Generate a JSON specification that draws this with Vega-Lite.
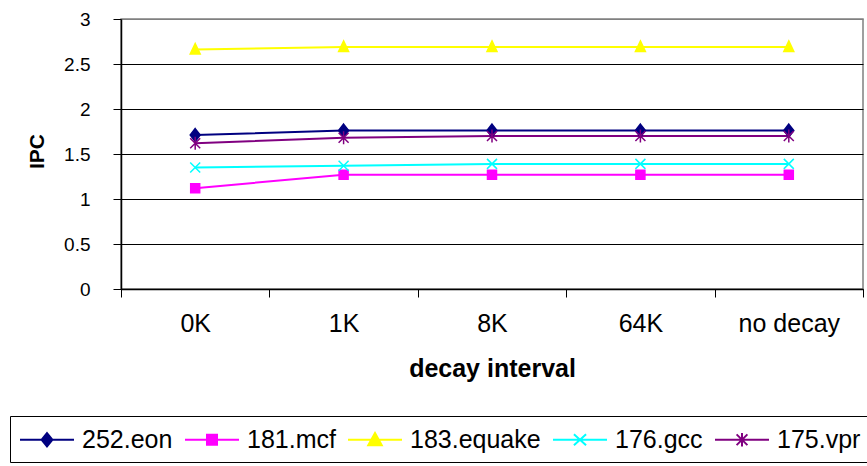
{
  "$schema": "https://vega.github.io/schema/vega-lite/v6.json",
  "width": 742,
  "height": 270,
  "autosize": {"type": "none"},
  "padding": {"left": 121, "top": 19, "right": 4, "bottom": 177},
  "background": "white",
  "config": {
    "font": "Liberation Sans",
    "view": {"stroke": "#808080", "strokeWidth": 1.5},
    "axis": {"labelFont": "Liberation Sans", "titleFont": "Liberation Sans", "labelColor": "black", "titleColor": "black", "domainColor": "black", "tickColor": "black"},
    "point": {"filled": true, "size": 100, "strokeWidth": 1.5, "opacity": 1}
  },
  "data": {
    "values": [
      {"interval": "0K", "series": "252.eon", "ipc": 1.71},
      {"interval": "1K", "series": "252.eon", "ipc": 1.76},
      {"interval": "8K", "series": "252.eon", "ipc": 1.76},
      {"interval": "64K", "series": "252.eon", "ipc": 1.76},
      {"interval": "no decay", "series": "252.eon", "ipc": 1.76},
      {"interval": "0K", "series": "181.mcf", "ipc": 1.12},
      {"interval": "1K", "series": "181.mcf", "ipc": 1.27},
      {"interval": "8K", "series": "181.mcf", "ipc": 1.27},
      {"interval": "64K", "series": "181.mcf", "ipc": 1.27},
      {"interval": "no decay", "series": "181.mcf", "ipc": 1.27},
      {"interval": "0K", "series": "183.equake", "ipc": 2.66},
      {"interval": "1K", "series": "183.equake", "ipc": 2.69},
      {"interval": "8K", "series": "183.equake", "ipc": 2.69},
      {"interval": "64K", "series": "183.equake", "ipc": 2.69},
      {"interval": "no decay", "series": "183.equake", "ipc": 2.69},
      {"interval": "0K", "series": "176.gcc", "ipc": 1.35},
      {"interval": "1K", "series": "176.gcc", "ipc": 1.37},
      {"interval": "8K", "series": "176.gcc", "ipc": 1.39},
      {"interval": "64K", "series": "176.gcc", "ipc": 1.39},
      {"interval": "no decay", "series": "176.gcc", "ipc": 1.39},
      {"interval": "0K", "series": "175.vpr", "ipc": 1.62},
      {"interval": "1K", "series": "175.vpr", "ipc": 1.68},
      {"interval": "8K", "series": "175.vpr", "ipc": 1.70},
      {"interval": "64K", "series": "175.vpr", "ipc": 1.70},
      {"interval": "no decay", "series": "175.vpr", "ipc": 1.70}
    ]
  },
  "encoding": {
    "x": {
      "field": "interval",
      "type": "nominal",
      "sort": ["0K", "1K", "8K", "64K", "no decay"],
      "scale": {"type": "band", "paddingInner": 0, "paddingOuter": 0},
      "axis": {
        "title": "decay interval",
        "labelAngle": 0,
        "labelFontSize": 25,
        "labelPadding": 14,
        "tickBand": "extent",
        "tickSize": 8,
        "domainWidth": 1.5,
        "titleFontSize": 25,
        "titleFontWeight": "bold",
        "titlePadding": 20,
        "grid": false
      }
    },
    "y": {
      "field": "ipc",
      "type": "quantitative",
      "scale": {"domain": [0, 3], "nice": false},
      "axis": {
        "title": "IPC",
        "values": [0, 0.5, 1, 1.5, 2, 2.5, 3],
        "format": "~g",
        "labelFontSize": 19,
        "labelPadding": 23,
        "tickSize": 8,
        "domainWidth": 1.5,
        "grid": true,
        "gridColor": {"condition": {"test": "datum.value === 3", "value": "#808080"}, "value": "#000000"},
        "gridWidth": 1,
        "gridOpacity": 1,
        "titleFontSize": 21,
        "titleFontWeight": "bold",
        "titleX": -84,
        "titleY": 132,
        "titleBaseline": "middle"
      }
    }
  },
  "layer": [
    {
      "mark": {"type": "line", "strokeWidth": 2},
      "encoding": {
        "color": {
          "field": "series",
          "type": "nominal",
          "scale": {
            "domain": ["252.eon", "181.mcf", "183.equake", "176.gcc", "175.vpr"],
            "range": ["#000080", "#FF00FF", "#FFFF00", "#00FFFF", "#800080"]
          },
          "legend": {
            "title": null,
            "orient": "none",
            "direction": "horizontal",
            "legendX": -111,
            "legendY": 397,
            "padding": 9,
            "strokeColor": "#000000",
            "fillColor": "white",
            "labelFont": "Liberation Sans",
            "labelFontSize": 25,
            "labelColor": "black",
            "labelOffset": 34,
            "columnPadding": 8,
            "symbolSize": 729,
            "symbolStrokeWidth": 2,
            "symbolOpacity": 1,
            "labelLimit": 300,
            "symbolType": {"expr": "datum.value === '252.eon' ? 'M-1,0L3,0M1,-0.5L1.4,0L1,0.5L0.6,0ZM1,-0.33L1.27,0L1,0.33L0.73,0ZM1,-0.17L1.13,0L1,0.17L0.87,0Z' : datum.value === '181.mcf' ? 'M-1,0L3,0M0.63,-0.37L1.37,-0.37L1.37,0.37L0.63,0.37ZM0.75,-0.25L1.25,-0.25L1.25,0.25L0.75,0.25ZM0.87,-0.12L1.13,-0.12L1.13,0.12L0.87,0.12Z' : datum.value === '183.equake' ? 'M-1,0L3,0M1,-0.5L1.5,0.4L0.5,0.4ZM1,-0.3L1.33,0.3L0.67,0.3ZM1,-0.1L1.17,0.2L0.83,0.2Z' : datum.value === '176.gcc' ? 'M-1,0L3,0M0.55,-0.4L1.45,0.4M0.55,0.4L1.45,-0.4' : 'M-1,0L3,0M0.6,-0.4L1.4,0.4M0.6,0.4L1.4,-0.4M1,-0.5L1,0.5'"}
          }
        },
        "detail": {"field": "series"}
      }
    },
    {
      "transform": [{"filter": {"field": "series", "equal": "252.eon"}}],
      "mark": {"type": "point", "shape": "M0,-1.3L1,0L0,1.3L-1,0Z", "stroke": "#000080"},
      "encoding": {"color": {"field": "series", "type": "nominal", "legend": null}}
    },
    {
      "transform": [{"filter": {"field": "series", "equal": "181.mcf"}}],
      "mark": {"type": "point", "shape": "M-0.9,-0.9L0.9,-0.9L0.9,0.9L-0.9,0.9Z", "stroke": "#FF00FF"},
      "encoding": {"color": {"field": "series", "type": "nominal", "legend": null}}
    },
    {
      "transform": [{"filter": {"field": "series", "equal": "183.equake"}}],
      "mark": {"type": "point", "shape": "M0,-1.2L1,0.9L-1,0.9Z", "stroke": "#FFFF00"},
      "encoding": {"color": {"field": "series", "type": "nominal", "legend": null}}
    },
    {
      "transform": [{"filter": {"field": "series", "equal": "176.gcc"}}],
      "mark": {"type": "point", "shape": "M-1,-1L1,1M-1,1L1,-1", "stroke": "#00FFFF"},
      "encoding": {"color": {"field": "series", "type": "nominal", "legend": null}}
    },
    {
      "transform": [{"filter": {"field": "series", "equal": "175.vpr"}}],
      "mark": {"type": "point", "shape": "M-1,-1L1,1M-1,1L1,-1M0,-1.3L0,1.3", "stroke": "#800080"},
      "encoding": {"color": {"field": "series", "type": "nominal", "legend": null}}
    }
  ]
}
